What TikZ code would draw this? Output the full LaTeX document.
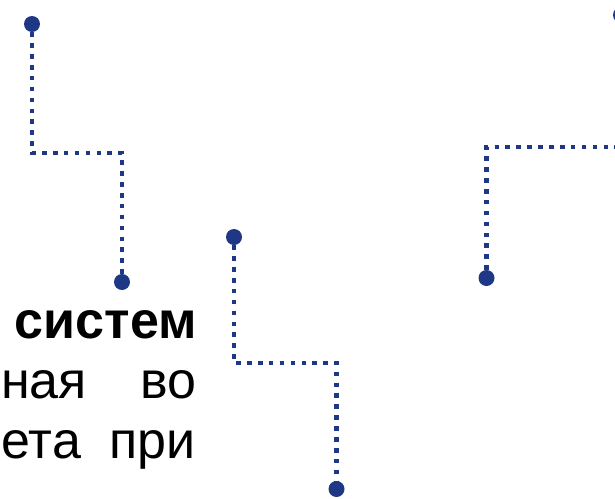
\documentclass[tikz,border=0pt]{standalone}
\usepackage{fontspec}
\setmainfont{Liberation Sans}
\definecolor{navy}{RGB}{31,56,134}
\begin{document}
\begin{tikzpicture}[x=1pt,y=-1pt,
  dot/.style={circle,fill=navy,inner sep=0pt,minimum size=16pt},
  dotline/.style={draw=navy,line width=4.6pt,dash pattern=on 4.6pt off 6.3pt},
  txt/.style={inner sep=0pt,font=\fontsize{52}{60}\selectfont}]
\useasboundingbox (0,0) rectangle (615,498);
\clip (0,0) rectangle (615,498);
% path 1
\node[dot] (a1) at (32,24) {};
\node[dot] (a2) at (122,282) {};
\coordinate (k1) at (32,153);
\draw[dotline] (a1) -- (k1) -| (a2);
% path 2
\node[dot] (c1) at (234,237) {};
\node[dot] (c2) at (336.5,489) {};
\coordinate (k2) at (234,363);
\draw[dotline] (c1) -- (k2) -| (c2);
% path 3
\node[dot] (b1) at (486.5,278) {};
\node[dot] (b2) at (621,15) {};
\coordinate (k3) at (486.5,147);
\draw[dotline] (b1) -- (k3) -| (b2);
% text
\node[txt,anchor=base east] (t1) at (197,338) {\bfseries систем};
\node[txt,anchor=base west] (t2) at (1,398) {ная};
\node[txt,anchor=base east] (t3) at (197,398) {во};
\node[txt,anchor=base west] (t4) at (1.5,458) {ета};
\node[txt,anchor=base east] (t5) at (195.5,458) {при};
\end{tikzpicture}
\end{document}
